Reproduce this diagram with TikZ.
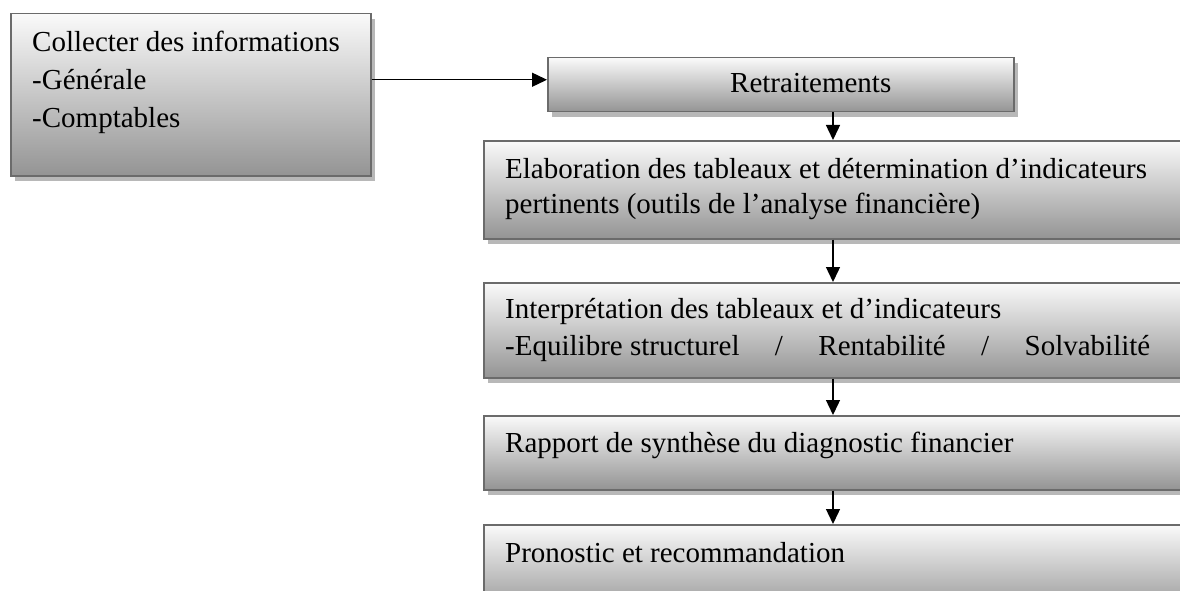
\documentclass[tikz,border=0pt]{standalone}
\usepackage{fontspec}
\setmainfont{Liberation Serif}
\usetikzlibrary{arrows.meta}

\tikzset{
  stepbox/.style={draw=black!58, line width=1.5pt, top color=black!2, bottom color=black!42,
    shading angle=0, inner sep=0pt, anchor=north west,
    preaction={fill=black!28, transform canvas={shift={(4pt,-5pt)}}}},
  label/.style={anchor=base west, inner sep=0pt, font=\fontsize{29}{35}\selectfont},
  link/.style={line width=1.4pt, -{Triangle[length=15pt,width=14pt]}}
}

\begin{document}
\begin{tikzpicture}[x=1pt, y=-1pt]
  \useasboundingbox (0,0) rectangle (1180,591);

  % process boxes (the right-hand column runs past the page edge)
  \node[stepbox, minimum width=360pt, minimum height=162pt] (info) at (10,13) {};
  \node[stepbox, minimum width=466pt, minimum height=54pt]  (retr) at (547,57) {};
  \node[stepbox, minimum width=720pt, minimum height=98pt]  (elab) at (483,140) {};
  \node[stepbox, minimum width=720pt, minimum height=95pt]  (interp) at (483,282) {};
  \node[stepbox, minimum width=720pt, minimum height=74pt]  (rapport) at (483,415) {};
  \node[stepbox, minimum width=720pt, minimum height=90pt]  (prono) at (483,524) {};

  % box texts
  \node[label] (t1) at (32,52)  {Collecter des informations};
  \node[label] (t2) at (32,90)  {-Générale};
  \node[label] (t3) at (32,128) {-Comptables};
  \node[label] (t4) at (730,93) {Retraitements};
  \node[label] (t5) at (505,178) {Elaboration des tableaux et détermination d’indicateurs};
  \node[label] (t6) at (505,213) {pertinents (outils de l’analyse financière)};
  \node[label] (t7) at (505,318) {Interprétation des tableaux et d’indicateurs};
  \node[label] (t8) at (505,355) {\hbox to 645pt{-Equilibre structurel\hfill/\hfill Rentabilité\hfill/\hfill Solvabilité}};
  \node[label] (t9) at (505,452) {Rapport de synthèse du diagnostic financier};
  \node[label] (t10) at (505,562) {Pronostic et recommandation};

  % connectors
  \coordinate (col) at (833,0);
  \draw[link] ([yshift=15pt]info.east) -- ([yshift=15pt]info.east -| retr.west);
  \draw[link] (retr.south -| col) -- (elab.north -| col);
  \draw[link] (elab.south -| col) -- (interp.north -| col);
  \draw[link] (interp.south -| col) -- (rapport.north -| col);
  \draw[link] (rapport.south -| col) -- (prono.north -| col);
\end{tikzpicture}
\end{document}
